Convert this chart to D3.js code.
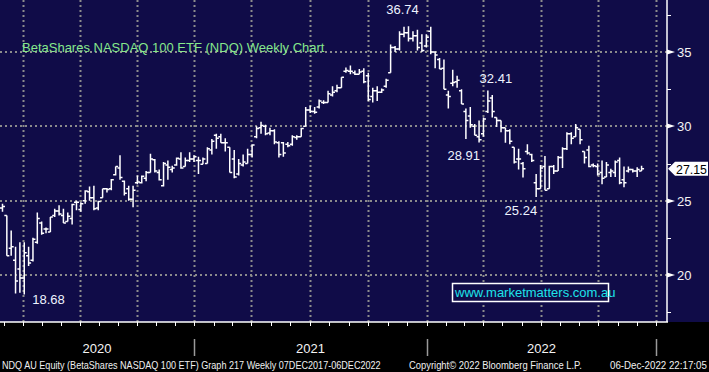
<!DOCTYPE html>
<html lang="en">
  <head>
    <meta charset="UTF-8" />
    <script src="https://cdn.jsdelivr.net/npm/d3@7"></script>
    <title>NDQ weekly</title>
    <style>
      body { margin: 0; background: #000; }
      text { font-family: "Liberation Sans", Arial, sans-serif; }
    </style>
  </head>
  <body>
    <svg id="chart" width="709" height="372"></svg>
  </body>
  <script>
    // weekly bars, first week ending 28 Feb 2020
    var firstWeek = new Date(2020, 1, 28);

    var opens = [
      24.5, 24.0, 21.8, 21.0, 20.4, 19.8, 21.3, 21.0, 22.2, 23.5,
      23.1, 22.9, 24.0, 24.3, 24.0, 23.6, 23.8, 24.9, 24.4, 25.0,
      25.6, 25.2, 24.5, 25.2, 25.8, 25.8, 26.75, 27.2, 26.3, 25.8,
      25.1, 26.2, 26.2, 26.5, 26.9, 27.75, 26.9, 26.0, 27.4, 27.1,
      27.4, 27.8, 27.3, 27.7, 27.8, 27.7, 27.45, 27.5, 28.4,
      29.4, 29.3, 28.9, 28.6, 27.8, 26.8, 27.4, 27.5, 28.1, 29.3,
      29.9, 30.0, 29.55, 29.7, 28.9, 28.9, 28.8, 28.8, 29.25, 29.3,
      30.0, 31.1, 31.0, 31.3, 31.6, 31.6, 32.1, 32.4, 32.6, 33.7,
      33.7, 33.6, 33.5, 33.7, 33.4, 32.0, 32.4, 32.3, 32.7, 33.6,
      35.3, 35.2, 36.2, 36.3, 35.9, 36.1, 35.6, 35.4,
      36.4, 35.0, 34.5, 33.9, 32.1, 32.9, 33.0, 32.4, 31.0, 30.7,
      30.0, 29.3, 29.5, 31.0, 31.9, 30.6, 30.4, 29.9, 29.7, 28.6,
      27.8, 27.5, 28.3, 28.1, 26.2, 25.8, 27.3, 25.8, 27.3, 27.0,
      27.9, 28.5, 29.5, 29.3, 29.8, 28.3, 28.4, 27.4, 27.3, 26.9,
      26.6, 26.9, 26.9, 27.7, 26.4, 27.0, 27.1, 27.0, 27.0
    ];
    var highs = [
      24.8, 24.0, 23.0, 21.9, 22.2, 22.2, 21.9, 22.5, 24.2, 23.6,
      23.2, 23.9, 24.45, 24.7, 24.45, 24.2, 24.8, 25.0, 24.9, 25.7,
      25.95, 26.0, 25.0, 25.8, 25.85, 26.45, 27.3, 28.05, 26.35, 26.0,
      26.0, 26.7, 26.7, 27.0, 28.15, 27.8, 27.1, 27.6, 27.7, 27.35,
      27.9, 28.25, 27.9, 28.25, 28.05, 27.95, 27.9, 28.6, 29.15,
      29.5, 29.5, 29.2, 28.6, 28.4, 27.8, 28.1, 28.5, 28.8, 30.0,
      30.3, 30.1, 29.9, 29.8, 29.0, 28.95, 28.95, 29.4, 29.4, 29.9,
      31.3, 31.4, 31.3, 31.8, 31.75, 32.4, 32.7, 32.8, 33.3, 33.95,
      34.1, 33.75, 33.85, 33.9, 33.6, 32.6, 32.7, 32.55, 33.2, 35.5,
      35.4, 36.4, 36.7, 36.74, 36.4, 36.5, 36.2, 36.2,
      36.7, 35.05, 34.6, 34.5, 32.4, 33.8, 33.4, 32.5, 31.2, 31.3,
      30.15, 30.4, 30.6, 32.41, 32.1, 30.6, 30.4, 29.9, 29.8, 28.6,
      28.5, 27.6, 28.8, 28.15, 26.8, 27.4, 28.0, 27.35, 27.4, 28.0,
      28.6, 29.6, 29.6, 30.15, 29.8, 28.3, 28.7, 27.5, 27.5, 27.7,
      27.6, 27.15, 27.7, 27.9, 27.3, 27.3, 27.15, 27.25, 27.35
    ];
    var lows = [
      24.25, 21.3, 21.3, 18.75, 18.8, 18.68, 20.6, 20.9, 22.1, 22.7,
      22.8, 22.9, 23.9, 24.0, 23.5, 23.6, 23.4, 24.35, 24.25, 24.8,
      25.0, 24.35, 24.35, 25.2, 25.55, 25.7, 26.7, 26.4, 25.35, 25.0,
      24.55, 26.1, 26.15, 26.3, 26.9, 26.9, 26.35, 25.95, 26.4, 26.9,
      27.35, 27.15, 27.3, 27.6, 27.6, 26.8, 27.45, 27.5, 28.1,
      28.5, 28.9, 28.3, 26.9, 26.5, 26.7, 27.3, 27.5, 27.9, 29.2,
      29.5, 29.4, 29.4, 28.8, 27.9, 27.95, 28.6, 28.7, 29.1, 29.3,
      30.0, 30.9, 30.85, 31.2, 31.5, 31.6, 32.0, 32.3, 32.6, 33.6,
      33.5, 33.45, 33.5, 32.9, 31.7, 31.6, 31.7, 32.25, 32.6, 33.6,
      35.0, 35.1, 36.0, 35.7, 35.7, 35.1, 35.0, 35.3,
      34.85, 33.9, 33.85, 32.5, 31.2, 32.7, 32.6, 31.5, 29.15, 29.9,
      29.4, 28.91, 29.3, 30.9, 30.6, 29.95, 29.6, 28.9, 28.8, 27.5,
      27.1, 26.55, 28.1, 27.6, 25.24, 25.8, 25.7, 25.8, 26.8, 27.0,
      27.2, 28.4, 28.8, 29.3, 28.8, 27.5, 27.25, 27.25, 26.7, 26.1,
      26.6, 26.6, 26.6, 26.1, 25.9, 26.9, 26.9, 26.6, 27.0
    ];
    var closes = [
      24.6, 21.3, 21.9, 19.6, 19.8, 21.5, 20.8, 22.4, 23.8, 22.8,
      23.1, 23.9, 24.3, 24.1, 23.5, 23.95, 24.75, 24.9, 24.8, 25.65,
      25.2, 24.45, 24.95, 25.8, 25.75, 26.4, 27.3, 26.55, 25.5, 25.1,
      25.7, 26.25, 26.65, 26.9, 27.8, 27.0, 26.4, 27.5, 27.25, 27.2,
      27.85, 27.2, 27.7, 27.8, 27.95, 27.7, 27.8, 28.5, 29.0,
      29.2, 28.9, 28.9, 26.9, 26.6, 27.5, 27.6, 28.1, 28.75, 29.85,
      30.05, 29.5, 29.7, 28.95, 28.1, 28.2, 28.7, 29.3, 29.3, 29.85,
      31.1, 31.0, 30.95, 31.7, 31.6, 32.2, 32.3, 32.6, 33.3, 33.75,
      33.7, 33.5, 33.65, 33.0, 31.8, 32.4, 32.3, 32.45, 33.1, 35.3,
      35.2, 36.2, 36.3, 35.9, 36.1, 35.3, 35.1, 36.0,
      35.0, 34.8, 33.85, 32.5, 32.0, 32.95, 33.1, 31.5, 30.4, 30.1,
      29.4, 29.1, 30.5, 31.7, 31.0, 30.4, 29.9, 29.7, 29.0, 27.6,
      27.8, 27.15, 28.2, 27.7, 25.8, 27.2, 25.7, 27.3, 27.0, 27.9,
      28.5, 29.5, 29.2, 29.9, 29.1, 27.9, 27.3, 27.35, 26.8, 26.5,
      27.4, 27.0, 27.6, 26.2, 26.2, 27.1, 27.0, 27.1, 27.15
    ];

    var priceTicks = [20, 25, 30, 35];
    var minorTicks = [17.5, 22.5, 27.5, 32.5, 37.5];
    var yearLabels = ["2020", "2021", "2022"];
    var lastPrice = 27.15;

    // labelled highs and lows: value and the week it belongs to
    var markValues = [36.74, 32.41, 28.91, 25.24, 18.68];
    var markWeeks = [92, 110, 108, 121, 5];

    var title = "BetaShares NASDAQ 100 ETF (NDQ) Weekly Chart";
    var footer = [
      "NDQ AU Equity (BetaShares NASDAQ 100 ETF) Graph 217  Weekly 07DEC2017-06DEC2022",
      "Copyright\u00A9 2022 Bloomberg Finance L.P.",
      "06-Dec-2022 22:17:05"
    ];
    var watermark = "www.marketmatters.com.au";

    var svg = d3.select("#chart"),
      width = +svg.attr("width"),
      height = +svg.attr("height");

    var plotRight = 667,
      plotBottom = 322;
    var navy = "#100c48";

    var x = d3
      .scaleTime()
      .domain([new Date(2020, 1, 24), new Date(2021, 0, 1), new Date(2022, 0, 1), new Date(2023, 0, 1)])
      .range([0, 194, 427, 656]);
    var y = d3.scaleLinear().domain([20, 35]).range([275, 52]);

    var bars = closes.map(function (c, i) {
      return {
        date: d3.timeDay.offset(firstWeek, i * 7),
        o: opens[i], h: highs[i], l: lows[i], c: c
      };
    });

    // squeeze a text horizontally so it spans exactly len pixels
    function fitText(sel, len) {
      sel.each(function () {
        var node = this,
          w = node.getComputedTextLength(),
          tx = +node.getAttribute("x"),
          ty = +node.getAttribute("y");
        d3.select(node)
          .attr("x", 0)
          .attr("y", 0)
          .attr("transform", "translate(" + tx + "," + ty + ") scale(" + (len / w) + ",1)");
      });
    }

    // backgrounds
    svg.append("rect").attr("width", width).attr("height", height).attr("fill", "#000");
    svg.append("rect").attr("width", width).attr("height", plotBottom).attr("fill", navy);

    svg.append("defs").append("clipPath").attr("id", "plotclip")
      .append("rect").attr("width", plotRight).attr("height", plotBottom);

    // dotted grid
    var quarters = d3.timeMonth.every(3).range(new Date(2020, 3, 1), new Date(2023, 0, 2));
    svg.append("g")
      .selectAll("line")
      .data(quarters)
      .enter()
      .append("line")
      .attr("x1", (d) => Math.round(x(d)) + 0.5)
      .attr("x2", (d) => Math.round(x(d)) + 0.5)
      .attr("y1", 0)
      .attr("y2", plotBottom)
      .attr("stroke", "#8c8c8c")
      .attr("stroke-width", 2)
      .attr("stroke-dasharray", "2,3");

    svg.append("g")
      .selectAll("line")
      .data(priceTicks)
      .enter()
      .append("line")
      .attr("x1", 0)
      .attr("x2", plotRight)
      .attr("y1", (d) => Math.round(y(d)))
      .attr("y2", (d) => Math.round(y(d)))
      .attr("stroke", "#8c8c8c")
      .attr("stroke-width", 2)
      .attr("stroke-dasharray", "2,3");

    // title
    svg.append("text")
      .attr("x", 22)
      .attr("y", 52)
      .attr("fill", "#86e88c")
      .style("font-size", "13px")
      .text(title);

    // OHLC bars
    svg.append("g")
      .attr("clip-path", "url(#plotclip)")
      .selectAll("path")
      .data(bars)
      .enter()
      .append("path")
      .attr("d", function (d) {
        var cx = x(d.date);
        return "M" + cx + "," + y(d.h) + "V" + y(d.l) +
          "M" + (cx - 2.5) + "," + y(d.o) + "H" + cx +
          "M" + cx + "," + y(d.c) + "H" + (cx + 2.5);
      })
      .attr("fill", "none")
      .attr("stroke", "#fff")
      .attr("stroke-width", 1.5);

    // high / low labels
    var markPlace = [
      { dx: -6, dy: -12, anchor: "middle" },
      { dx: 8, dy: -8, anchor: "middle" },
      { dx: 1, dy: 17, anchor: "end" },
      { dx: 1, dy: 18, anchor: "end" },
      { dx: 8, dy: 9, anchor: "start" }
    ];
    svg.append("g")
      .selectAll("text")
      .data(markValues)
      .enter()
      .append("text")
      .attr("x", (d, i) => x(bars[markWeeks[i]].date) + markPlace[i].dx)
      .attr("y", (d, i) => y(d) + markPlace[i].dy)
      .attr("text-anchor", (d, i) => markPlace[i].anchor)
      .attr("fill", "#eef3ff")
      .style("font-size", "13px")
      .text((d) => d.toFixed(2));

    // watermark box
    svg.append("rect")
      .attr("x", 452.5)
      .attr("y", 283.5)
      .attr("width", 156)
      .attr("height", 18)
      .attr("fill", navy)
      .attr("stroke", "#fff")
      .attr("stroke-width", 1.5);
    svg.append("text")
      .attr("x", 455)
      .attr("y", 297)
      .attr("fill", "#1ee3ea")
      .style("font-size", "13px")
      .text(watermark);

    // axes lines
    svg.append("line")
      .attr("x1", 0).attr("x2", plotRight + 1)
      .attr("y1", plotBottom).attr("y2", plotBottom)
      .attr("stroke", "#fff").attr("stroke-width", 1.5);
    svg.append("line")
      .attr("x1", plotRight).attr("x2", plotRight)
      .attr("y1", 0).attr("y2", plotBottom)
      .attr("stroke", "#fff").attr("stroke-width", 1.5);

    // month ticks
    var months = d3.timeMonth.range(new Date(2020, 2, 1), new Date(2023, 0, 2));
    svg.append("g")
      .selectAll("line")
      .data(months)
      .enter()
      .append("line")
      .attr("x1", (d) => Math.round(x(d)) + 0.5)
      .attr("x2", (d) => Math.round(x(d)) + 0.5)
      .attr("y1", plotBottom)
      .attr("y2", plotBottom + 4)
      .attr("stroke", "#fff");

    // year separators and labels
    var yearStarts = [new Date(2020, 1, 24), new Date(2021, 0, 1), new Date(2022, 0, 1), new Date(2023, 0, 1)];
    svg.append("g")
      .selectAll("line")
      .data(yearStarts.slice(1))
      .enter()
      .append("line")
      .attr("x1", (d) => Math.round(x(d)) + 0.5)
      .attr("x2", (d) => Math.round(x(d)) + 0.5)
      .attr("y1", 339)
      .attr("y2", 356)
      .attr("stroke", "#9a9a9a")
      .attr("stroke-width", 1.5);
    svg.append("g")
      .selectAll("text")
      .data(yearLabels)
      .enter()
      .append("text")
      .attr("x", (d, i) => (x(yearStarts[i]) + x(yearStarts[i + 1])) / 2)
      .attr("y", 353)
      .attr("text-anchor", "middle")
      .attr("fill", "#f4f4f4")
      .style("font-size", "13px")
      .text((d) => d);

    // right price axis
    svg.append("g")
      .selectAll("line")
      .data(minorTicks)
      .enter()
      .append("line")
      .attr("x1", plotRight)
      .attr("x2", plotRight + 4)
      .attr("y1", (d) => Math.round(y(d)) + 0.5)
      .attr("y2", (d) => Math.round(y(d)) + 0.5)
      .attr("stroke", "#fff");
    svg.append("g")
      .selectAll("path")
      .data(priceTicks)
      .enter()
      .append("path")
      .attr("d", function (d) {
        var ty = Math.round(y(d));
        return "M" + plotRight + "," + (ty - 2.5) + "L" + (plotRight + 8) + "," + ty + "L" + plotRight + "," + (ty + 2.5) + "Z";
      })
      .attr("fill", "#fff");
    svg.append("g")
      .selectAll("text")
      .data(priceTicks)
      .enter()
      .append("text")
      .attr("x", plotRight + 10)
      .attr("y", (d) => y(d) + 5)
      .attr("fill", "#f4f4f4")
      .style("font-size", "13px")
      .text((d) => d);

    // last price tag
    var ly = y(lastPrice);
    svg.append("path")
      .attr("d", "M" + (plotRight + 1) + "," + ly + "L" + (plotRight + 8) + "," + (ly - 7) +
        "H" + (width - 1) + "V" + (ly + 7) + "H" + (plotRight + 8) + "Z")
      .attr("fill", "#fff");
    svg.append("text")
      .attr("x", plotRight + 9)
      .attr("y", ly + 5)
      .attr("fill", "#000")
      .style("font-size", "13px")
      .text(lastPrice.toFixed(2))
      .call(fitText, 31);

    // footer
    var footerPos = [
      { x: 2, len: 379 },
      { x: 409, len: 173 },
      { x: 610, len: 97 }
    ];
    svg.append("g")
      .selectAll("text")
      .data(footer)
      .enter()
      .append("text")
      .attr("x", (d, i) => footerPos[i].x)
      .attr("y", 369)
      .attr("fill", "#f0f0f0")
      .style("font-size", "11px")
      .text((d) => d)
      .each(function (d, i) {
        d3.select(this).call(fitText, footerPos[i].len);
      });
  </script>
</html>
